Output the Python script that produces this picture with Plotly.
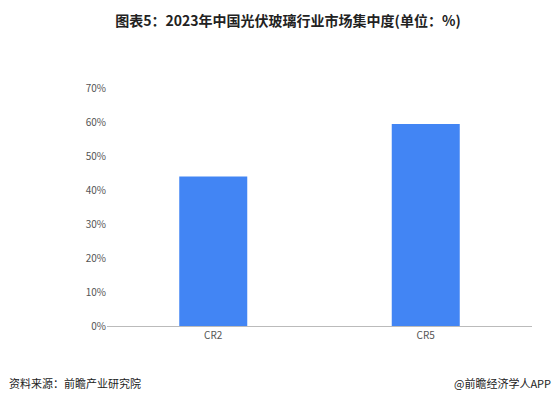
import plotly.graph_objects as go

categories = ["CR2", "CR5"]
shares = [44.0, 59.4]
tick_values = [0, 10, 20, 30, 40, 50, 60, 70]
tick_labels = ["0%", "10%", "20%", "30%", "40%", "50%", "60%", "70%"]

fig = go.Figure(go.Bar(
    x=categories, y=shares, width=0.32,
    marker=dict(color="#4285F4", line=dict(width=0)),
))

fig.update_layout(
    width=560, height=407,
    paper_bgcolor="white", plot_bgcolor="white",
    margin=dict(l=99, r=36, t=80, b=89),
    font=dict(family="Noto Sans CJK SC", size=10, color="#555"),
    title=dict(text="<b>图表5：2023年中国光伏玻璃行业市场集中度(单位：%)</b>",
               x=0.5, xanchor="center", y=0.98, font=dict(size=14, color="#222")),
    showlegend=False,
)
fig.update_xaxes(showline=True, linecolor="#bbb", ticks="", tickfont=dict(size=10, color="#555"))
fig.update_yaxes(range=[0, 70], tickvals=tick_values, ticktext=tick_labels,
                 showgrid=False, zeroline=False, tickfont=dict(size=10, color="#555"))

fig.add_annotation(text="资料来源：前瞻产业研究院", xref="paper", yref="paper",
                   x=-0.235, y=-0.24, xanchor="left", yanchor="middle", showarrow=False,
                   font=dict(size=11, color="#222"))
fig.add_annotation(text="@前瞻经济学人APP", xref="paper", yref="paper",
                   x=1.05, y=-0.24, xanchor="right", yanchor="middle", showarrow=False,
                   font=dict(size=11, color="#222"))

fig.write_html("out.html")
